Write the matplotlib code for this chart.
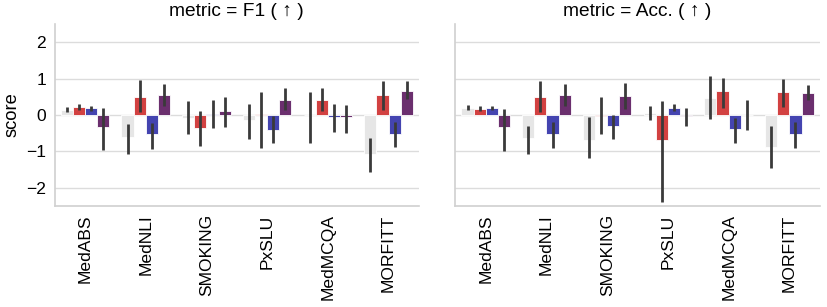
import matplotlib
matplotlib.use("Agg")
import matplotlib.pyplot as plt
import numpy as np

plt.rcParams['font.family'] = ['Liberation Sans', 'DejaVu Sans']

datasets = ['MedABS', 'MedNLI', 'SMOKING', 'PxSLU', 'MedMCQA', 'MORFITT']
metrics = ['F1 ( ↑ )', 'Acc. ( ↑ )']
hue_colors = ['#e6e6e6', '#d24141', '#4444b0', '#6b2f6e']

# mean score per hue, one row per hue (gray, red, blue, purple)
f1_mean = [
    [0.15, -0.61, -0.08, -0.15, -0.01, -1.06],
    [0.21, 0.50, -0.37, 0.02, 0.42, 0.55],
    [0.18, -0.52, 0.03, -0.40, -0.06, -0.52],
    [-0.32, 0.54, 0.10, 0.42, -0.06, 0.67],
]
f1_lo = [
    [0.08, -1.07, -0.51, -0.67, -0.76, -1.58],
    [0.15, 0.08, -0.86, -0.92, 0.11, 0.15],
    [0.12, -0.94, -0.37, -0.77, -0.48, -0.89],
    [-0.96, 0.26, -0.32, 0.15, -0.50, 0.45],
]
f1_hi = [
    [0.22, -0.26, 0.37, 0.31, 0.63, -0.64],
    [0.29, 0.95, 0.11, 0.64, 0.74, 0.92],
    [0.26, -0.22, 0.42, -0.02, 0.29, -0.20],
    [0.18, 0.86, 0.50, 0.73, 0.28, 0.92],
]

acc_mean = [
    [0.20, -0.62, -0.69, 0.06, 0.47, -0.87],
    [0.16, 0.50, -0.02, -0.69, 0.67, 0.63],
    [0.19, -0.53, -0.31, 0.20, -0.39, -0.53],
    [-0.33, 0.55, 0.53, -0.02, -0.01, 0.61],
]
acc_lo = [
    [0.15, -1.08, -1.17, -0.15, -0.12, -1.46],
    [0.10, 0.07, -0.53, -2.38, 0.19, 0.23],
    [0.13, -0.91, -0.67, 0.12, -0.76, -0.91],
    [-0.98, 0.26, 0.17, -0.30, -0.40, 0.41],
]
acc_hi = [
    [0.28, -0.30, -0.06, 0.25, 1.07, -0.30],
    [0.25, 0.94, 0.48, 0.37, 1.02, 0.99],
    [0.26, -0.19, 0.01, 0.29, -0.07, -0.18],
    [0.17, 0.84, 0.89, 0.20, 0.40, 0.81],
]

panels = [(f1_mean, f1_lo, f1_hi), (acc_mean, acc_lo, acc_hi)]

fs = 12.6
fig, axes = plt.subplots(1, 2, figsize=(8.28, 3.07), dpi=100, sharey=True)
fig.subplots_adjust(left=0.066, right=0.99, top=0.922, bottom=0.329, wspace=0.1)

x = np.arange(len(datasets))
w = 0.2
for ax, metric, (mean, lo, hi) in zip(axes, metrics, panels):
    for h in range(4):
        xs = x - 0.3 + h * w
        ax.bar(xs, mean[h], width=w, color=hue_colors[h], edgecolor='white',
               linewidth=0.6, zorder=2)
        ax.vlines(xs, lo[h], hi[h], color='#3a3a3a', lw=2.0, zorder=3)
    ax.set_title('metric = ' + metric, fontsize=13.8, pad=6)
    ax.set_xlim(-0.5, len(datasets) - 0.5)
    ax.set_xticks(x)
    ax.set_xticklabels(datasets, rotation=90, fontsize=fs)
    ax.grid(axis='y', color='#dcdcdc', lw=1, zorder=0)
    ax.set_axisbelow(True)
    for s in ['top', 'right']:
        ax.spines[s].set_visible(False)
    for s in ['left', 'bottom']:
        ax.spines[s].set_color('#d0d0d0')
        ax.spines[s].set_linewidth(1.2)
    ax.tick_params(length=0, labelsize=fs, pad=6)

axes[0].set_ylim(-2.5, 2.5)
axes[0].set_yticks([-2, -1, 0, 1, 2])
axes[0].set_ylabel('score', fontsize=13.2)
axes[1].tick_params(labelleft=False)

fig.savefig('out.png', dpi=100)
